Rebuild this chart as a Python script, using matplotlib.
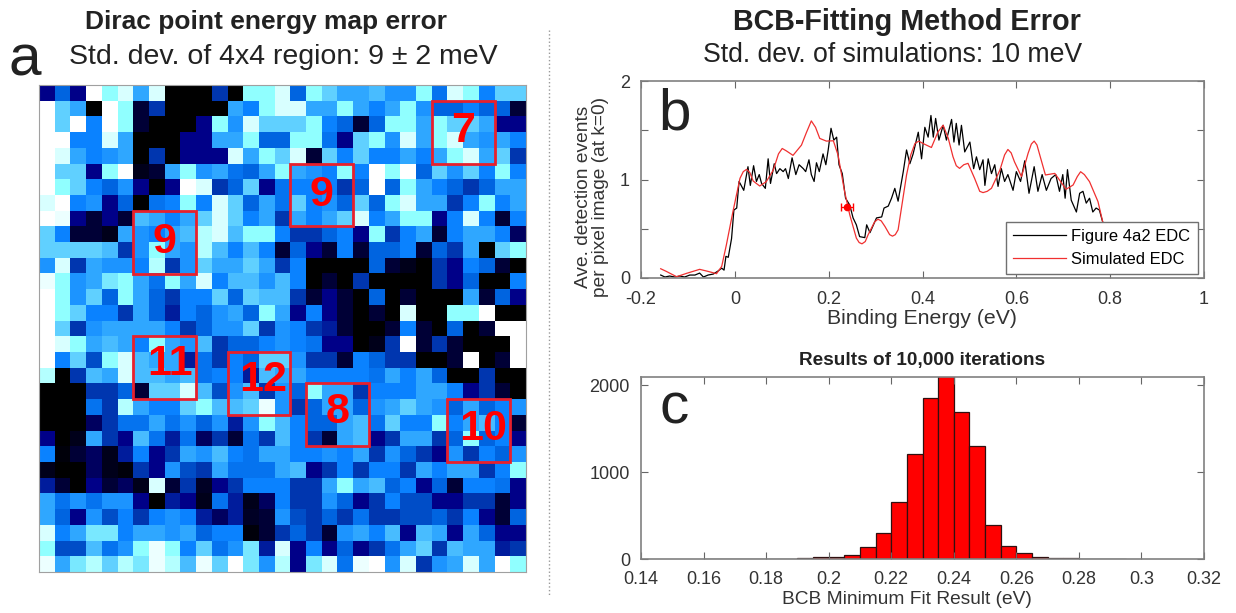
import matplotlib
matplotlib.use('Agg')
import matplotlib.pyplot as plt
import numpy as np
from matplotlib.colors import LinearSegmentedColormap
from matplotlib.patches import Rectangle

plt.rcParams['font.family'] = ['Liberation Sans', 'DejaVu Sans']

W, H = 1236, 613

map_rows = [
    [2,4,2,10,8,9,6,9,0,0,0,3,0,8,8,9,4,8,7,6,6,6.5,5.5,5.5,8,4.5,9,8,5,7,7],
    [10,7,6,0,10,8,1,3,0,0,0,0,6,5,8,9,9,6,6,8,6,5,6,8,5.5,4,4,5,4,4,1],
    [10,7,10,5,10,8,1,0,0,0,2,8,5.5,9,7,7,7,8,5,4,1,4,8,8,6,8,7,7,6,2,2],
    [10,10,5,5,9,6,0,0,0,2,2,6,6,8,4,4,8,8,4.5,2,7,8,5.5,9,6,8,9,6,5.5,6,5],
    [10,9,6,5,5.5,6,0,3,0,2,2,2,9,6,8,7,9,1,7,5,7,5,5,6,5,6,8,9,6,7,3],
    [10,7,7,2,8,10,.5,1,6,8,5.5,6,4.5,4,6,8,6,5.5,5,8,5,10,8,10,4,7,5.5,7,5,8,5],
    [10,8,7,5,4,5.5,2,0,2,10,9,3,4,7,2,4.5,5,5,5,3,4,10,4,8,6,5,4,3,4,6,6],
    [9,10,5,5.5,2,4,0,4.5,5,8,5,9,7,4,6,4.5,7,5,5.5,4,7,4,8,9,6,6,3,5,8,5,6],
    [10,9.5,2,1,2,1,6.5,6,5,6,7,9,7,5,6,3,6,5,6,7,9,5,6,8,8,2,5,9,5,1,5],
    [7,5,1,1,.5,6,5.5,5,6,6.5,8.5,9,6.5,8,8,5,3,3,4,5,2,8,3,5,6,1,5,6,6,5,1.5],
    [7,7,7,7,6.5,3,5.5,8,6,5.5,8.5,6.5,5,6.5,5,1,4,2,1,5,1,4,4,5,1,4,3,6,0,7,8],
    [5.5,9,3,6,5.5,5.5,5,8.5,3,5.5,7,6,6,7,6,3,5,0,0,0,0,4,1,.5,0,3,2,5,4,1,0],
    [9.5,8,5.5,6,7.5,8,6,4.5,8,6,9,5,6.5,6.5,5.5,6.5,5,0,1,0,3,0,0,0,0,3,2,4,0,0,5],
    [10,8,5.5,7,4,8,6,4,3,5,5,7,4,7,6.5,6.5,3,1,2,1,0,4,0,1,0,0,0,6,1,4,2],
    [10,8,7,5,5,3,6,4,2.5,5,4,5.5,6,4,8,6,2,5,2,1,0,1,0,9,0,0,8,8,10,0,0],
    [10,7,3,5.5,6,6,6,6,5,3,4,5.5,5.5,7,3,5.5,5,3,2.5,1,0,0,1,5,1,0,4,0,1,10,10],
    [10,9,8,6,6.5,6,5,8,6,5.5,6.5,3,4,4,5,5.5,5,4.5,2,2,0,.5,3,10,1,3,1,0,0,0,10],
    [10,5,7,3.5,8,9,6.5,6,6,2.5,4.5,3,5,4,7,7,5.5,3,3,1,5,4,3,3,0,0,1,10,0,1,10],
    [8.5,0,3,6.5,6,9,6.5,6.5,6,6.5,4.5,5,5,2.5,6.5,6,6,5,5,5,5,4.5,6,5,6,4,0,0,3,0,0],
    [0,0,0,3,3,4,1,7,7,9,6.5,3.5,5.5,6.5,3,5.5,4,8,6,6,3,5,5,5,6,6,5,2,3,1,0],
    [0,0,0,4.5,3,8.5,6,5,5,7,8,6.5,6.5,7,9.5,5.5,3,4,6,6,4,5.5,6,7,6,5.5,4,6,4,5,5.5],
    [0,0,0,1.5,3,4.5,4.5,6,4.5,5.5,4,5.5,2.5,5.5,8,6.5,5,4,4,6,6.5,4.5,7,5,5,8,5,6,6.5,5,1],
    [2,0,.5,6,3,2,6.5,4.5,2.5,4.5,1.5,3,1,4.5,3,6.5,5,3,1,6,6.5,2,3,6,6,3,4,8,4,5,2],
    [5,.2,1,1.5,.5,2.5,5,2,3,6,5.5,6.5,5,4.5,6,6,5,5,5.5,5,6,3,5.5,4,3,2,5.5,3,5,4,5.5],
    [.5,0,0,1.5,.5,.2,3,2,5.5,3.5,3,6,4.5,4.5,4.5,6,6.5,2,3,5,3,5,5,3,6,5,6,6,3,5,8],
    [2.5,1,0,2,1,1.5,.5,9,1,3,.7,2,3,5,5,5,3,3,6,8,6,6.5,4,5,2,4,1,5,5,4.5,2],
    [6,4.5,5.5,4.5,5.5,5.5,2,0,2.5,2,.5,4.5,2.5,.5,1.5,5,3,3,5.5,4,2,3,5,3.5,3.5,2,2,3,3,1,2],
    [6,4,2,5.5,3.5,5,3,5,5.5,5,2.5,1.5,2.5,.7,1,5.5,3.5,3,4,3,4.5,3,3,3.5,3.5,4,3,5,2,1,4],
    [9,5,6,7.5,7.5,5,6,6,5.5,6,4,5,5,.2,1,3,4,3,1,5.5,6,5,6.5,2,6.5,6,2,6,4,2,2],
    [8,3.5,3.5,6.5,4.5,5.5,8,9.5,8,5,7,4.5,5.5,7.5,2.5,9,2,5,2,4,2,3,4.5,6,7,3,6.5,6,6,2.5,3],
    [9.5,6,7.5,8.5,7,8.5,7.5,9.5,8.5,6.5,9.5,7,10,7.5,5.5,8.5,2,7.5,9,4.5,9.5,10,5.5,9,3,5.5,6,9,6,10,8],
]

# 4x4 regions: first column, first row, label
box_cols = [25, 16, 6, 6, 12, 17, 26]
box_rows = [1, 5, 8, 16, 17, 19, 20]
box_labels = ['7', '9', '9', '11', '12', '8', '10']

# panel b
edc_x = [-.158,-.149,-.139,-.128,-.117,-.107,-.096,-.085,-.075,-.067,-.057,-.046,-.036,-.028,-.023,-.019,-.014,-.007,-.002,.004,
         .009,.019,.028,.033,.040,.046,.052,.057,.065,.071,.076,.084,.089,.096,.103,.108,.114,.122,.130,.137,
         .146,.151,.158,.163,.169,.174,.180,.188,.194,.199,.205,.211,.217,.222,.229,.236,.245,.252,.259,.266,
         .277,.281,.288,.302,.313,.318,.327,.334,.341,.348,.359,.366,.373,.380,.391,.398,.405,.412,.418,.423,
         .428,.435,.444,.451,.462,.467,.472,.478,.483,.490,.501,.509,.515,.522,.529,.533,.540,.547,.554,.561,
         .568,.575,.582,.593,.600,.609,.618,.627,.638,.646,.655,.664,.674,.684,.692,.699,.704,.709,.717,.728,
         .735,.742,.749,.756,.763,.770,.777,.784]
edc_y = [.03,.01,.02,.01,.02,.01,.03,.03,.05,.01,.03,.04,.07,.10,.08,.22,.21,.40,.69,.71,
         .98,.89,1.13,.94,1.14,.98,1.05,.96,.91,1.21,.96,1.16,1.06,1.11,1.08,1.11,1.01,1.22,1.05,1.15,
         1.11,1.08,1.20,1.05,.98,1.17,1.08,1.26,1.15,1.30,1.52,1.40,1.43,1.15,1.06,.81,.74,.61,.54,.42,
         .41,.54,.46,.61,.62,.71,.73,.81,.91,.78,1.08,1.30,1.16,1.26,1.48,1.21,1.53,1.43,1.65,1.43,
         1.62,1.40,1.55,1.40,1.61,1.38,1.57,1.35,1.55,1.28,1.38,1.11,1.23,1.10,1.20,.94,1.21,1.06,1.15,.93,
         1.11,.98,1.05,.89,1.08,.98,1.19,.86,1.13,.88,1.05,.89,1.01,1.05,.88,1.05,.81,1.10,.79,.67,
         .86,.88,.76,.81,.67,.71,.69,.57]
sim_x = [-.158,-.146,-.124,-.103,-.075,-.057,-.039,-.028,-.018,-.004,.011,.018,.025,.032,.039,.053,.067,.082,.093,.101,
         .11,.124,.142,.152,.163,.172,.181,.195,.21,.22,.234,.245,.259,.265,.271,.278,.284,.298,.305,.312,
         .32,.33,.336,.342,.348,.366,.375,.384,.392,.401,.419,.433,.444,.455,.465,.472,.479,.488,.497,.511,
         .522,.529,.538,.547,.565,.575,.582,.589,.596,.611,.625,.632,.638,.644,.65,.662,.682,.706,.721,.73,
         .737,.745,.756,.774,.784]
sim_y = [.094,.067,.013,.047,.088,.067,.044,.118,.337,.675,1.012,1.08,1.103,1.07,.985,.934,.978,1.096,1.26,1.315,
         1.29,1.245,1.349,1.47,1.595,1.53,1.417,1.39,1.393,1.248,.877,.641,.405,.36,.347,.37,.438,.57,.597,.58,
         .523,.44,.425,.44,.489,1.046,1.25,1.366,1.39,1.366,1.325,1.484,1.551,1.417,1.231,1.14,1.113,1.15,1.164,1.012,
         .88,.867,.88,.911,1.096,1.25,1.305,1.27,1.18,1.029,1.265,1.36,1.39,1.35,1.248,1.046,1.062,.901,.944,1.03,
         1.079,1.05,.978,.776,.573]
bcb_x, bcb_xerr, bcb_y = .239, .012, .725

# panel c, bins start at 0.16
hist_left = .16
hist_step = .005
hist_counts = [1,1,2,2,3,5,8,20,20,45,140,300,650,1210,1850,2150,1695,1300,395,145,65,25,12,6,4,2,1]

fig = plt.figure(figsize=(12.36, 6.13), dpi=100)


def box_axes(x0, y0, x1, y1):
    return fig.add_axes([x0 / W, 1 - y1 / H, (x1 - x0) / W, (y1 - y0) / H])


def put(x, y, s, **kw):
    kw.setdefault('ha', 'center')
    kw.setdefault('va', 'center')
    kw.setdefault('color', '#222222')
    fig.text(x / W, 1 - y / H, s, **kw)


def style(ax):
    for s in ax.spines.values():
        s.set_color('#808080')
        s.set_linewidth(1.2)
    ax.tick_params(direction='in', top=True, right=True, length=5, width=0.8, color='#666666',
                   labelsize=13, labelcolor='#333333')
    ax.tick_params(axis='x', pad=9)
    ax.tick_params(axis='y', pad=8)


# a
ax = box_axes(39, 85, 526, 572)
blues = ['#000000', '#000038', '#000088', '#0038b0', '#0064e0', '#0a82ff', '#30a8ff', '#60d0ff', '#90ffff', '#d8ffff', '#ffffff']
cm = LinearSegmentedColormap.from_list('blk_blue', blues)
ax.imshow(np.array(map_rows), cmap=cm, vmin=0, vmax=10, interpolation='nearest', aspect='auto')
ax.set_xticks([])
ax.set_yticks([])
for s in ax.spines.values():
    s.set_color('#a0a0a0')
label_dx = [0, 0, 0, .35, .3, 0, .25]
label_dy = [-.1, 0, 0, -.25, -.25, -.2, -.1]
for c, r, lab, dx, dy in zip(box_cols, box_rows, box_labels, label_dx, label_dy):
    ax.add_patch(Rectangle((c - .5, r - .5), 4, 4, fill=False, ec='#e8202c', lw=2))
    ax.text(c + 1.5 + dx, r + 1.5 + dy, lab, color='#ff0000', fontsize=31, fontweight='bold', ha='center', va='center')

# b
ax = box_axes(641, 81, 1204, 278)
ax.plot(edc_x, edc_y, color='black', lw=0.9, label='Figure 4a2 EDC')
ax.plot(sim_x, sim_y, color='#f03030', lw=0.9, label='Simulated EDC')
ax.errorbar([bcb_x], [bcb_y], xerr=[bcb_xerr], color='red', marker='o', ms=4.5, capsize=3, lw=0.9)
ax.set_xlim(-.2, 1)
ax.set_ylim(0, 2)
ax.set_xticks([-.2, 0, .2, .4, .6, .8, 1])
ax.set_xticklabels(['-0.2', '0', '0.2', '0.4', '0.6', '0.8', '1'])
ax.set_yticks([0, .5, 1, 1.5, 2])
ax.set_yticklabels(['0', '', '1', '', '2'])
style(ax)
ax.legend(loc='lower left', bbox_to_anchor=((1006 - 641) / 563, (278 - 274) / 197), fontsize=11.9, fancybox=False,
          framealpha=1, edgecolor='#707070', borderpad=.45, labelspacing=.45, handlelength=3.2, handletextpad=.3,
          borderaxespad=0)

# c
ax = box_axes(641, 377, 1204, 559)
ax.bar([hist_left + i * hist_step for i in range(len(hist_counts))], hist_counts, width=hist_step, align='edge',
       color='#ff0000', edgecolor='#301010', linewidth=0.9)
ax.set_xlim(.14, .32)
ax.set_ylim(0, 2092)
ax.set_xticks(np.arange(7, 17) * .02)
ax.set_xticklabels(['0.14', '0.16', '0.18', '0.2', '0.22', '0.24', '0.26', '0.28', '0.3', '0.32'])
ax.set_yticks([0, 1000, 2000])
style(ax)

# titles and labels
put(266, 22, 'Dirac point energy map error', fontsize=19, fontweight='bold')
put(283, 57, 'Std. dev. of 4x4 region: 9 ± 2 meV', fontsize=20.5)
put(907, 22, 'BCB-Fitting Method Error', fontsize=20.7, fontweight='bold')
put(893, 55, 'Std. dev. of simulations: 10 meV', fontsize=19.2)
put(25, 60, 'a', fontsize=42)
put(675, 114, 'b', fontsize=42)
put(674, 409, 'c', fontsize=42)
put(922, 318, 'Binding Energy (eV)', fontsize=15.3, color='#333333')
put(907, 599, 'BCB Minimum Fit Result (eV)', fontsize=13.8, color='#333333')
put(922, 360, 'Results of 10,000 iterations', fontsize=13.7, fontweight='bold')
put(592, 197, 'Ave. detection events\nper pixel image (at k=0)', fontsize=13.8, rotation=90, color='#333333', linespacing=1.05)

fig.add_artist(plt.Line2D([549 / W, 549 / W], [1 - 30 / H, 1 - 595 / H], color='#999999', lw=1, ls=':'))

fig.savefig('out.png', dpi=100)
